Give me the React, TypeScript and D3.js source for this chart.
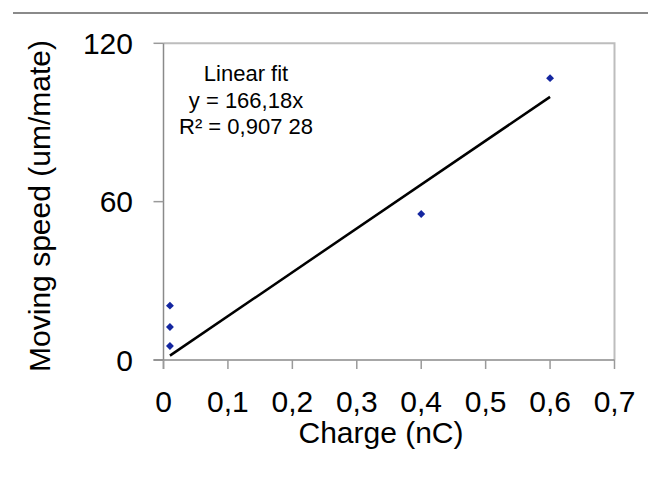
import React from "react";
import * as d3 from "d3";

// Measured points: charge (nC) vs moving speed
const chargeValues = [0.01, 0.01, 0.01, 0.4, 0.6];
const speedValues = [5.3, 12.5, 20.6, 55.3, 106.8];

// Linear fit through the origin
const fitSlope = 166.18;
const fitRange = [0.01, 0.6];
const fitLabels = ["Linear fit", "y = 166,18x", "R² = 0,907 28"];

const xTicks = [0, 0.1, 0.2, 0.3, 0.4, 0.5, 0.6, 0.7];
const yTicks = [0, 60, 120];

const W = 648;
const H = 477;
const FONT = "'Liberation Sans', Arial, Helvetica, sans-serif";

const fmt = (v: number) => String(v).replace(".", ",");

export default function App() {
  const x = d3.scaleLinear().domain([0, 0.7]).range([163.5, 614.5]);
  const y = d3.scaleLinear().domain([0, 120]).range([360, 43.3]);

  const line = d3
    .line<number>()
    .x((d) => x(d))
    .y((d) => y(fitSlope * d));

  const diamond = d3.symbol().type(d3.symbolDiamond2).size(40)();

  return (
    <>
      <style>{`body{margin:0}`}</style>
      <svg width={W} height={H} style={{ display: "block", background: "#fff" }} fontFamily={FONT}>
        {/* separator rule */}
        <line x1={13} x2={W} y1={13} y2={13} stroke="#8a8a8a" strokeWidth={2} />

        {/* plot frame: top and right */}
        <path
          d={`M${x(0)},${y(120)} H${x(0.7)} V${y(0)}`}
          fill="none"
          stroke="#bdbdbd"
          strokeWidth={2}
        />

        {/* y axis */}
        <line x1={x(0)} x2={x(0)} y1={y(120)} y2={y(0) + 9} stroke="#8a8a8a" strokeWidth={1.5} />
        {yTicks.map((t) => (
          <g key={`y${t}`}>
            <line x1={x(0) - 10} x2={x(0)} y1={y(t)} y2={y(t)} stroke="#9a9a9a" strokeWidth={1.5} />
            <text x={133} y={y(t)} dy="0.36em" textAnchor="end" fontSize={30} fill="#000">
              {t}
            </text>
          </g>
        ))}

        {/* x axis */}
        <line x1={x(0) - 10} x2={x(0.7)} y1={y(0)} y2={y(0)} stroke="#8a8a8a" strokeWidth={1.5} />
        {xTicks.map((t) => (
          <g key={`x${t}`}>
            <line x1={x(t)} x2={x(t)} y1={y(0)} y2={y(0) + 9} stroke="#9a9a9a" strokeWidth={1.5} />
            <text x={x(t)} y={411.5} textAnchor="middle" fontSize={30} fill="#000">
              {fmt(t)}
            </text>
          </g>
        ))}

        {/* axis titles */}
        <text x={381} y={443} textAnchor="middle" fontSize={30} fill="#000">
          Charge (nC)
        </text>
        <text
          transform={`translate(50,${206}) rotate(-90)`}
          textAnchor="middle"
          fontSize={30}
          fill="#000"
        >
          Moving speed (um/mate)
        </text>

        {/* fit line */}
        <path d={line(fitRange) || ""} fill="none" stroke="#000" strokeWidth={2.5} />

        {/* data points */}
        {chargeValues.map((c, i) => (
          <path
            key={`p${i}`}
            d={diamond || ""}
            transform={`translate(${x(c)},${y(speedValues[i])})`}
            fill="#1426a0"
          />
        ))}

        {/* fit annotation */}
        {fitLabels.map((s, i) => (
          <text key={s} x={246} y={81 + i * 26.5} textAnchor="middle" fontSize={22} fill="#000">
            {s}
          </text>
        ))}
      </svg>
    </>
  );
}
